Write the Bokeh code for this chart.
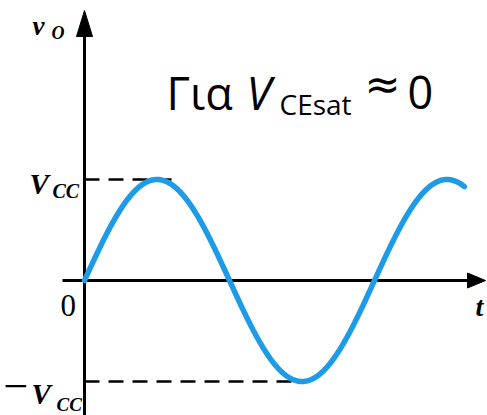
import numpy as np
from bokeh.plotting import figure
from bokeh.models import Range1d, Label
from bokeh.embed import file_html
from bokeh.resources import INLINE

# Output voltage of the amplifier: a sine swinging between +Vcc and -Vcc
vcc = 1.0            # amplitude, in units of Vcc
period = 1.0         # one period of the output
t_end = 1.31         # how far the trace runs (in periods)
level_values = [vcc, 0.0, -vcc]
guide_levels = [vcc, -vcc]       # dashed guides at the peak and the trough
guide_ends = [0.30, 0.74]        # where each guide stops (in periods)

W, H = 487, 415
X0, Y0 = 84.0, 280.0     # pixel position of the origin
SX, SY = 290.0, 101.0    # pixels per period, pixels per Vcc


def X(px):
    return (px - X0) / SX


def Y(py):
    return (Y0 - py) / SY


def PY(v):
    return Y0 - SY * v


p = figure(width=W, height=H, output_backend="svg", toolbar_location=None,
           x_range=Range1d(X(0), X(W)), y_range=Range1d(Y(H), Y(0)),
           x_axis_type=None, y_axis_type=None, min_border=0)
p.outline_line_color = None
p.background_fill_color = "white"
p.border_fill_color = "white"

# axes with arrow heads
p.line([X(X0), X(X0)], [Y(H + 5), Y(30)], line_color="black", line_width=3)
p.line([X(62), X(470)], [0, 0], line_color="black", line_width=3)
p.patch([X(X0), X(X0 - 8), X(X0 + 8)], [Y(10), Y(36), Y(36)], color="black")
p.patch([X(485), X(467), X(467)], [0, Y(Y0 - 7.5), Y(Y0 + 7.5)], color="black")

# dashed guides at +Vcc and -Vcc
for lev, te in zip(guide_levels, guide_ends):
    p.line([0, te], [lev, lev], line_color="black", line_width=2.4,
           line_dash="15 9")

# the output waveform
t = np.linspace(0, t_end, 500)
v = vcc * np.sin(2 * np.pi * t / period)
p.line(t, v, line_color="#1E9BE6", line_width=5.5, line_cap="round")

serif = "Liberation Serif"
sans = "Open Sans"


def lab(x, y, text, size, font=serif, style="bold italic"):
    p.add_layout(Label(x=X(x), y=Y(y), text=text, text_font=font,
                       text_font_size=f"{size}px", text_font_style=style,
                       text_baseline="alphabetic", text_align="left",
                       text_color="black"))


# axis titles
lab(32, 25, "v", 27)
lab(51, 32, "O", 18)
lab(475, 306, "t", 28)

# level labels on the vertical axis
lab(29, PY(level_values[0]) + 4, "V", 29)
lab(52, PY(level_values[0]) + 11, "CC", 20)
lab(60, PY(level_values[1]) + 25, "0", 31, style="normal")
lab(3, PY(level_values[2]) + 5, "\u2212", 44, style="normal")
lab(31, PY(level_values[2]) + 12, "V", 29)
lab(56, PY(level_values[2]) + 23, "CC", 19)

# condition in the corner
lab(166, 92, "\u0393\u03b9\u03b1", 45, font=sans, style="normal")
lab(246, 92, "V", 45, font=sans, style="italic")
lab(279, 103, "CEsat", 28, font=sans, style="normal")
lab(364, 83, "\u2248", 43, font="DejaVu Sans", style="normal")
lab(407, 92, "0", 45, font=sans, style="normal")

open("out.html", "w").write(file_html(p, INLINE))
